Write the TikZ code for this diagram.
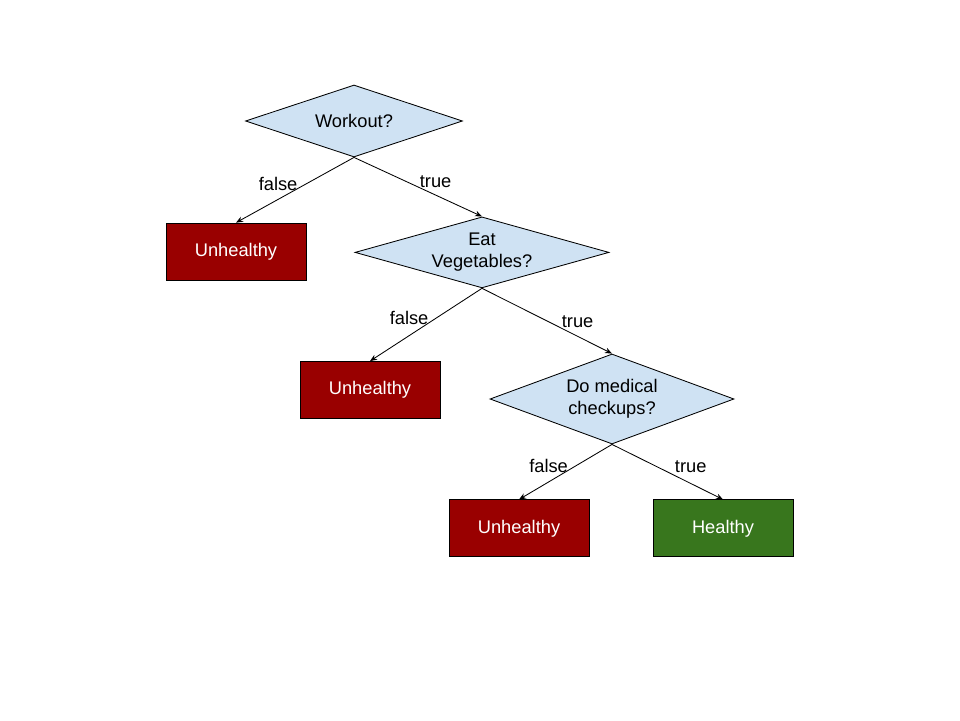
\documentclass[tikz,border=0pt]{standalone}
\usepackage{fontspec}
\setmainfont{Liberation Sans}
\usetikzlibrary{shapes.geometric,arrows.meta}
\definecolor{qblue}{HTML}{CFE2F3}
\definecolor{badred}{HTML}{990000}
\definecolor{goodgreen}{HTML}{38761D}
\begin{document}
\begin{tikzpicture}[line width=0.6pt,
  font=\fontsize{13}{15.5}\selectfont,
  question/.style={draw,diamond,fill=qblue,inner sep=0pt,align=center},
  result/.style={draw,rectangle,text=white,minimum width=3.5cm,minimum height=1.425cm},
  lbl/.style={inner sep=1pt,yshift=-1.5pt}]
  \useasboundingbox (0,0) rectangle (24,18);
        \node[question,aspect=3,minimum width=5.425cm,minimum height=1.8cm] (w) at (8.85,14.975) {Workout?};
        \node[result,fill=badred] (u1) at (5.9,11.71) {Unhealthy};
        \node[question,aspect=3.58,minimum width=6.35cm,minimum height=1.775cm] (v) at (12.05,11.69) {Eat\\Vegetables?};
        \node[result,fill=badred] (u2) at (9.25,8.25) {Unhealthy};
        \node[question,aspect=2.7,minimum width=6.1cm,minimum height=2.25cm] (m) at (15.3,8.025) {Do medical\\checkups?};
        \node[result,fill=badred] (u3) at (12.975,4.79) {Unhealthy};
        \node[result,fill=goodgreen] (h) at (18.075,4.79) {Healthy};
         \draw[-{Stealth[length=5pt,width=4pt]}] (w.south) to node[lbl,above left,xshift=3pt] {false} (u1.north);
         \draw[-{Stealth[length=5pt,width=4pt]}] (w.south) to node[lbl,above right] {true} (v.north);
         \draw[-{Stealth[length=5pt,width=4pt]}] (v.south) to node[lbl,above left,xshift=3pt] {false} (u2.north);
         \draw[-{Stealth[length=5pt,width=4pt]}] (v.south) to node[lbl,above right,pos=0.6] {true} (m.north);
         \draw[-{Stealth[length=5pt,width=4pt]}] (m.south) to node[lbl,above left,xshift=3pt] {false} (u3.north);
         \draw[-{Stealth[length=5pt,width=4pt]}] (m.south) to node[lbl,above right,xshift=4pt] {true} (h.north);
\end{tikzpicture}
\end{document}
